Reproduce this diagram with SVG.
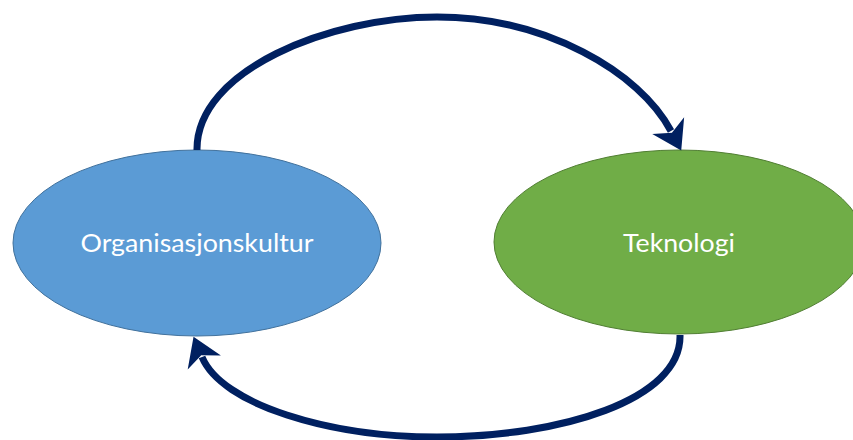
<svg xmlns="http://www.w3.org/2000/svg" width="853" height="440" viewBox="0 0 853 440">
  <style>
    .label { font-family: Lato, "Open Sans", "Liberation Sans", sans-serif; font-size: 25px; fill: #ffffff; text-anchor: middle; }
    .link { fill: none; stroke: #002060; stroke-width: 7; }
  </style>
  <defs>
    <marker id="head" markerUnits="userSpaceOnUse" markerWidth="44" markerHeight="44" viewBox="-8 -22 34 44" refX="0" refY="0" orient="auto">
      <path d="M-6,-18 L22,0 L-6,18 L2,0 Z" fill="#002060"/>
    </marker>
  </defs>
  <rect width="853" height="440" fill="#ffffff"/>

  <g id="node-organisasjonskultur">
    <ellipse cx="197" cy="243" rx="184" ry="93" fill="#5B9BD5" stroke="#41719C" stroke-width="1"/>
    <text class="label" x="197" y="252" textLength="233" lengthAdjust="spacingAndGlyphs">Organisasjonskultur</text>
  </g>

  <g id="node-teknologi">
    <ellipse cx="679" cy="242" rx="185" ry="92" fill="#70AD47" stroke="#507E32" stroke-width="1"/>
    <text class="label" x="679" y="252" textLength="112" lengthAdjust="spacingAndGlyphs">Teknologi</text>
  </g>

  <g id="connectors">
    <path class="link" d="M197,150 C196,70 330,17 437,17 C545,17 640,72 671,131" marker-end="url(#head)"/>
    <path class="link" d="M680,335 C682,400 560,437 437,437 C330,437 222,405 202,357" marker-end="url(#head)"/>
  </g>
</svg>
